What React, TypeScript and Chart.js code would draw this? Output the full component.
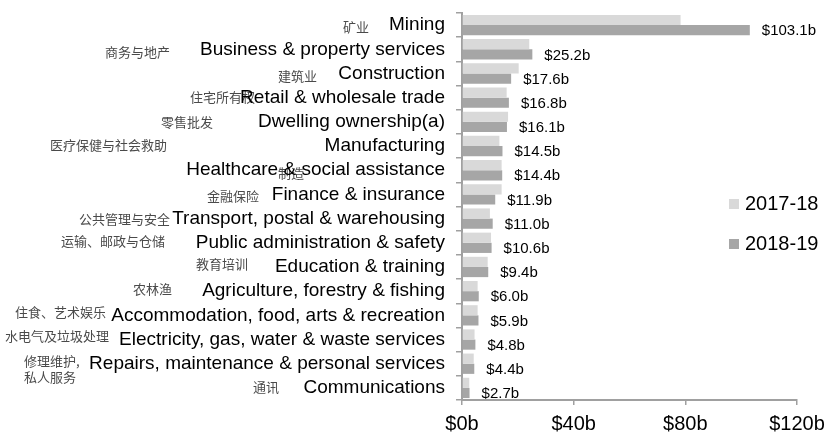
import React, { useEffect, useRef } from 'react';
import { Chart, registerables } from 'chart.js';

Chart.register(...registerables);

const categories = [
  'Mining',
  'Business & property services',
  'Construction',
  'Retail & wholesale trade',
  'Dwelling ownership(a)',
  'Manufacturing',
  'Healthcare & social assistance',
  'Finance & insurance',
  'Transport, postal & warehousing',
  'Public administration & safety',
  'Education & training',
  'Agriculture, forestry & fishing',
  'Accommodation, food, arts & recreation',
  'Electricity, gas, water & waste services',
  'Repairs, maintenance & personal services',
  'Communications',
];

const seriesNames = ['2017-18', '2018-19'];
const values1718 = [78.3, 24.1, 20.3, 16.0, 16.5, 13.4, 14.2, 14.2, 10.0, 10.4, 9.2, 5.6, 5.6, 4.5, 4.2, 2.6];
const values1819 = [103.1, 25.2, 17.6, 16.8, 16.1, 14.5, 14.4, 11.9, 11.0, 10.6, 9.4, 6.0, 5.9, 4.8, 4.4, 2.7];

const xTicks = [0, 40, 80, 120];

const noteTexts = [
  '矿业', '商务与地产', '建筑业', '住宅所有权', '零售批发', '医疗保健与社会救助', '制造', '金融保险',
  '公共管理与安全', '运输、邮政与仓储', '教育培训', '农林渔', '住食、艺术娱乐', '水电气及垃圾处理',
  '修理维护,', '私人服务', '通讯',
];
// left x, center y of each note
const notePlaces: [number, number][] = [
  [343, 27], [105, 52.5], [278, 76], [190, 97.5], [161, 122.5], [50, 145], [278, 173], [207, 196],
  [79, 219], [61, 241], [196, 264], [133, 289], [15, 312.5], [5, 336], [24, 361], [24, 377.5], [253, 387.5],
];

const LIGHT = '#d9d9d9';
const DARK = '#a6a6a6';
const AXIS = '#a0a0a0';
const FONT = '"Liberation Sans", Arial, sans-serif';

const notesPlugin = {
  id: 'cnNotes',
  beforeDraw(chart: any) {
    const ctx = chart.ctx;
    ctx.save();
    ctx.font = '13px "Noto Sans CJK SC", sans-serif';
    ctx.fillStyle = '#4a4a4a';
    ctx.textAlign = 'left';
    ctx.textBaseline = 'middle';
    noteTexts.forEach((t, i) => {
      const [x, y] = notePlaces[i];
      ctx.fillText(t, x, y);
    });
    ctx.restore();
  },
};

const valueLabelPlugin = {
  id: 'valueLabels',
  afterDatasetsDraw(chart: any) {
    const ctx = chart.ctx;
    const meta = chart.getDatasetMeta(1);
    ctx.save();
    ctx.font = '15px ' + FONT;
    ctx.fillStyle = '#000';
    ctx.textAlign = 'left';
    ctx.textBaseline = 'middle';
    meta.data.forEach((bar: any, i: number) => {
      const v = values1819[i];
      ctx.fillText('$' + v.toFixed(1) + 'b', bar.x + 12, bar.y + 1);
    });
    ctx.restore();
  },
};

const legendPlugin = {
  id: 'customLegend',
  afterDraw(chart: any) {
    const ctx = chart.ctx;
    const colors = [LIGHT, DARK];
    ctx.save();
    ctx.font = '20px ' + FONT;
    ctx.textAlign = 'left';
    ctx.textBaseline = 'middle';
    seriesNames.forEach((name, i) => {
      const cy = 204 + i * 40;
      ctx.fillStyle = colors[i];
      ctx.fillRect(729, cy - 5, 10, 10);
      ctx.fillStyle = '#000';
      ctx.fillText(name, 745, cy);
    });
    ctx.restore();
  },
};

export default function App() {
  const ref = useRef<HTMLCanvasElement>(null);
  useEffect(() => {
    if (!ref.current) return;
    const chart = new Chart(ref.current, {
      type: 'bar',
      data: {
        labels: categories,
        datasets: [
          { label: seriesNames[0], data: values1718, backgroundColor: LIGHT, categoryPercentage: 0.84, barPercentage: 1 },
          { label: seriesNames[1], data: values1819, backgroundColor: DARK, categoryPercentage: 0.84, barPercentage: 1 },
        ],
      },
      options: {
        indexAxis: 'y',
        animation: false,
        responsive: false,
        devicePixelRatio: 1,
        layout: { padding: { top: 13, right: 30, left: 0, bottom: 0 } },
        plugins: { legend: { display: false }, tooltip: { enabled: false } },
        scales: {
          y: {
            afterFit: (s: any) => { s.width = 462; s.paddingTop = 0; s.paddingBottom = 0; },
            grid: { drawOnChartArea: false, drawTicks: true, tickLength: 6, color: AXIS, lineWidth: 1.5, offset: true },
            border: { color: AXIS, width: 2 },
            ticks: { font: { size: 19, family: FONT }, color: '#000', padding: 11, autoSkip: false },
          },
          x: {
            min: 0,
            max: 120,
            afterFit: (s: any) => { s.height = 37; s.paddingRight = 0; s.paddingLeft = 0; },
            afterBuildTicks: (s: any) => { s.ticks = xTicks.map((v) => ({ value: v })); },
            grid: { drawOnChartArea: false, drawTicks: true, tickLength: 5, color: AXIS, lineWidth: 1.5 },
            border: { color: AXIS, width: 2 },
            ticks: {
              font: { size: 20, family: FONT },
              color: '#000',
              padding: 7,
              callback: (v: any) => '$' + v + 'b',
            },
          },
        },
      },
      plugins: [notesPlugin, valueLabelPlugin, legendPlugin],
    });
    return () => chart.destroy();
  }, []);
  return (
    <div style={{ position: 'fixed', left: 0, top: 0, width: 827, height: 437, background: '#fff' }}>
      <canvas ref={ref} width={827} height={437} />
    </div>
  );
}
